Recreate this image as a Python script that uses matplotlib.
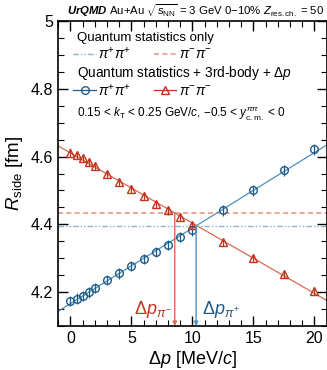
import numpy as np
import matplotlib
matplotlib.use("Agg")
import matplotlib.pyplot as plt
from matplotlib.lines import Line2D

plt.rcParams['font.family'] = ['Liberation Sans', 'DejaVu Sans']
plt.rcParams['mathtext.fontset'] = 'custom'
plt.rcParams['mathtext.rm'] = 'Liberation Sans'
plt.rcParams['mathtext.it'] = 'Liberation Sans:italic'
plt.rcParams['mathtext.bf'] = 'Liberation Sans:bold'
plt.rcParams['mathtext.bfit'] = 'Liberation Sans:italic:bold'

# Delta p values [MeV/c]
dp = [0, 0.5, 1, 1.5, 2, 3, 4, 5, 6, 7, 8, 9, 10, 12.5, 15, 17.5, 20]
# R_side [fm], quantum statistics + 3rd body + dp
r_pip = [4.174, 4.181, 4.189, 4.199, 4.211, 4.235, 4.255, 4.277, 4.298, 4.318,
         4.340, 4.362, 4.382, 4.441, 4.500, 4.559, 4.621]
r_pim = [4.612, 4.604, 4.597, 4.585, 4.572, 4.548, 4.525, 4.504, 4.483, 4.461,
         4.441, 4.422, 4.397, 4.348, 4.300, 4.253, 4.203]
err_pip = 0.015
err_pim = 0.012
# quantum statistics only
r_qs_pip = 4.396
r_qs_pim = 4.433
# extracted dp
dp_pip = 10.3
dp_pim = 8.55

c_blue = '#1f5c8a'
c_blue_l = '#4f8fbd'
c_blue_h = '#8db3d3'
c_red = '#c0361f'
c_red_l = '#da6a52'
c_red_h = '#e9998a'

fig = plt.figure(figsize=(3.27, 3.70), dpi=100)
ax = fig.add_axes([0.178, 0.119, 0.821, 0.824])

xlim = (-1, 21)
ylim = (4.1, 5.0)

ax.axhline(r_qs_pip, color=c_blue_h, lw=1.0, ls=(0, (4, 1.5, 1, 1.5, 1, 1.5)))
ax.axhline(r_qs_pim, color=c_red_h, lw=1.2, ls=(0, (3, 2)))

xx = np.array(xlim)
fb = np.polyfit(dp, r_pip, 1)
fr = np.polyfit(dp, r_pim, 1)
ax.plot(xx, np.polyval(fb, xx), color=c_blue_l, lw=0.9)
ax.plot(xx, np.polyval(fr, xx), color=c_red_l, lw=0.9)

ax.errorbar(dp, r_pip, yerr=err_pip, fmt='o', mfc='none', mec=c_blue, ecolor=c_blue,
            ms=5.5, mew=1.0, elinewidth=0.9, capsize=0)
ax.errorbar(dp, r_pim, yerr=err_pim, fmt='^', mfc='none', mec=c_red, ecolor=c_red,
            ms=5.5, mew=1.0, elinewidth=0.9, capsize=0)

ax.annotate('', xy=(dp_pim, ylim[0]), xytext=(dp_pim, r_qs_pim),
            arrowprops=dict(arrowstyle='-|>', color=c_red_l, lw=1.0,
                            mutation_scale=6, shrinkA=0, shrinkB=0))
ax.annotate('', xy=(dp_pip, ylim[0]), xytext=(dp_pip, r_qs_pip),
            arrowprops=dict(arrowstyle='-|>', color=c_blue_l, lw=1.0,
                            mutation_scale=6, shrinkA=0, shrinkB=0))
ax.text(dp_pim - 0.25, 4.150, r'$\Delta p_{\pi^{-}}$', color=c_red, fontsize=13,
        ha='right', va='center')
ax.text(dp_pip + 0.45, 4.150, r'$\Delta p_{\pi^{+}}$', color=c_blue, fontsize=13,
        ha='left', va='center')

ax.set_xlim(xlim)
ax.set_ylim(ylim)
ax.set_xticks([0, 5, 10, 15, 20])
ax.set_xticks(np.arange(-1, 22, 1), minor=True)
ax.set_yticks([4.2, 4.4, 4.6, 4.8, 5.0])
ax.set_yticklabels(['4.2', '4.4', '4.6', '4.8', '5'])
ax.set_yticks(np.arange(4.1, 5.001, 0.05), minor=True)
ax.tick_params(which='both', direction='in', top=True, right=True, labelsize=11.5)
ax.tick_params(which='major', length=7, width=1.0)
ax.tick_params(which='minor', length=4, width=0.8)
for s in ax.spines.values():
    s.set_linewidth(1.2)

ax.set_xlabel(r'$\Delta p$ [MeV/$c$]', fontsize=13, labelpad=2)
ax.set_ylabel(r'$R_{\rm side}$ [fm]', fontsize=13.5, labelpad=4)

ax.text(0.51, 1.008, r'$\mathbfit{UrQMD}$ Au+Au $\sqrt{s_{\rm NN}}$ = 3 GeV 0$-$10% $Z_{\rm res.ch.}$ = 50',
        transform=ax.transAxes, ha='center', va='bottom', fontsize=8.2)

# legend
ax.text(0.07, 0.945, 'Quantum statistics only', transform=ax.transAxes, fontsize=9.5, va='center')
h1 = [Line2D([], [], color=c_blue_h, lw=1.0, ls=(0, (4, 1.5, 1, 1.5, 1, 1.5))),
      Line2D([], [], color=c_red_h, lw=1.2, ls=(0, (3, 2)))]
leg1 = ax.legend(h1, [r'$\pi^{+}\pi^{+}$', r'$\pi^{-}\pi^{-}$'], ncol=2, frameon=False,
                 loc='center left', bbox_to_anchor=(0.01, 0.893), fontsize=10,
                 handlelength=1.6, handletextpad=0.2, columnspacing=1.6)
ax.add_artist(leg1)
ax.text(0.07, 0.83, r'Quantum statistics + 3rd-body + $\Delta p$', transform=ax.transAxes,
        fontsize=9.8, va='center')
h2 = [Line2D([], [], color=c_blue, lw=0.9, marker='o', mfc='none', ms=5.5),
      Line2D([], [], color=c_red, lw=0.9, marker='^', mfc='none', ms=5.5)]
ax.legend(h2, [r'$\pi^{+}\pi^{+}$', r'$\pi^{-}\pi^{-}$'], ncol=2, frameon=False,
          loc='center left', bbox_to_anchor=(0.01, 0.773), fontsize=10,
          handlelength=1.6, handletextpad=0.2, columnspacing=1.6)
ax.text(0.07, 0.695, r'0.15 < $k_{\rm T}$ < 0.25 GeV/$c$, $-$0.5 < $y^{\pi\pi}_{\rm c.m.}$ < 0',
        transform=ax.transAxes, fontsize=8.5, va='center')

fig.savefig('out.png', dpi=100)
